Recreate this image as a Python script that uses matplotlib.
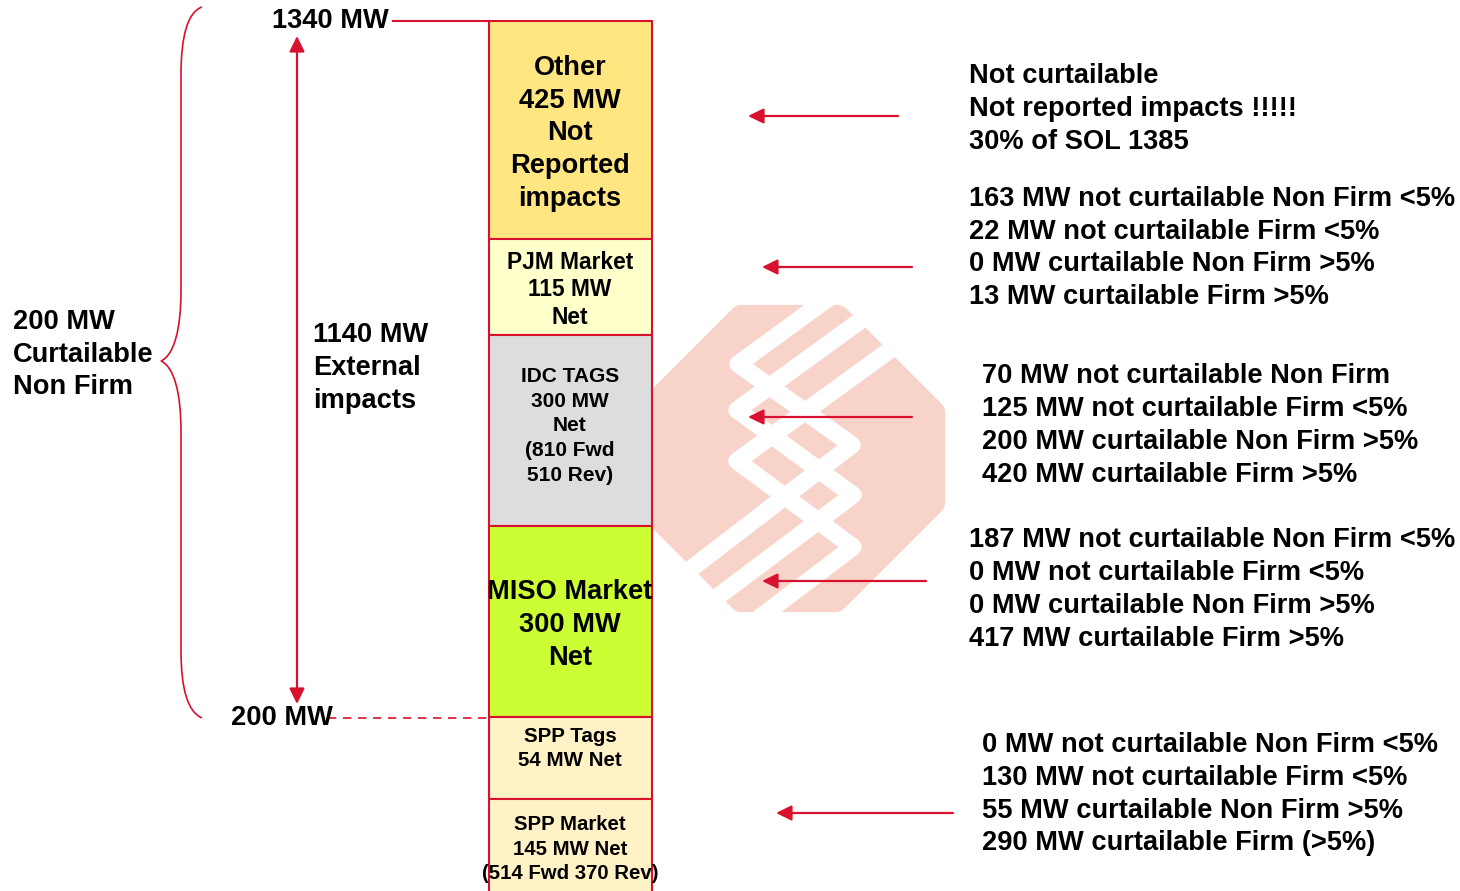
"""Redraw of the 1340 MW flowgate stack diagram, laid out in pixel coordinates."""
import matplotlib
matplotlib.use("Agg")
import matplotlib.pyplot as plt  # noqa: E402
from matplotlib.patches import PathPatch, Polygon, Rectangle  # noqa: E402
from matplotlib.path import Path  # noqa: E402

W, H = 1460, 891
RED = "#D7122F"
PEACH = "#F7D3C9"
BIG = 19.65

# stack segments, top to bottom
seg_edges = [21, 239, 335, 526, 717, 799, 900]
seg_colors = ["#FFE681", "#FFFFCC", "#DDDDDD", "#CCFF33", "#FFF2C6", "#FFF2C6"]
seg_labels = [
    ["Other", "425 MW", "Not", "Reported", "impacts"],
    ["PJM Market", "115 MW", "Net"],
    ["IDC TAGS", "300 MW", "Net", "(810 Fwd", "510 Rev)"],
    ["MISO Market", "300 MW", "Net"],
    ["SPP Tags", "54 MW Net"],
    ["SPP Market", "145 MW Net", "(514 Fwd 370 Rev)"],
]
seg_label_y = [
    [66, 99, 131, 164, 197],
    [261, 288, 316],
    [375, 400, 424, 449, 474],
    [590, 623, 656],
    [735, 759],
    [823, 848, 872],
]
seg_sizes = [BIG, 16.4, 15, BIG, 14.8, 14.7]

# notes on the right side
note_groups = [
    ["Not curtailable", "Not reported impacts !!!!!", "30% of SOL 1385"],
    ["163 MW not curtailable Non Firm <5%", "22 MW not curtailable Firm <5%",
     "0 MW curtailable Non Firm >5%", "13 MW curtailable Firm >5%"],
    ["70 MW not curtailable Non Firm", "125 MW not curtailable Firm <5%",
     "200 MW curtailable Non Firm >5%", "420 MW curtailable Firm >5%"],
    ["187 MW not curtailable Non Firm <5%", "0 MW not curtailable Firm <5%",
     "0 MW curtailable Non Firm >5%", "417 MW curtailable Firm >5%"],
    ["0 MW not curtailable Non Firm <5%", "130 MW not curtailable Firm <5%",
     "55 MW curtailable Non Firm >5%", "290 MW curtailable Firm (>5%)"],
]
note_x = [969, 969, 982, 969, 982]
note_y = [
    [74, 107, 140],
    [197, 230, 262, 295],
    [374, 407, 440, 473],
    [538, 571, 604, 637],
    [743, 776, 809, 841],
]
# (tail x, head x, y) of the arrows pointing back at the stack
arrows = [(898, 748, 116), (912, 762, 267), (912, 748, 417),
          (926, 762, 581), (953, 776, 813)]

# side labels
left_labels = [
    ("200 MW", 13, 320), ("Curtailable", 13, 353), ("Non Firm", 13, 385),
    ("1140 MW", 313, 333), ("External", 313, 366), ("impacts", 313, 399),
    ("1340 MW", 272, 19), ("200 MW", 231, 716),
]

# watermark logo: octagon (inset, the thick edge rounds the corners) and the
# white ribbons woven over it
logo_outline = [(741, 316), (838, 316), (934, 412), (934, 503), (836, 601),
                (741, 601), (640, 500), (640, 417)]
logo_ribbons = [
    [(830, 297), (738, 364), (852, 445), (670, 585)],
    [(875, 310), (737, 410), (853, 495), (700, 610)],
    [(905, 339), (737, 461), (853, 547), (750, 625)],
]


def baseline_text(ax, x, y, s, size, ha="left"):
    # y is the optical centre of the line; shift to baseline for even spacing
    ax.text(x, y + size * 0.46, s, fontsize=size, fontweight="bold", ha=ha,
            va="baseline", color="black", zorder=6)


def draw_logo(ax):
    ax.add_patch(Polygon(logo_outline, closed=True, fc=PEACH, ec=PEACH, lw=16,
                         joinstyle="round", zorder=1))
    for pts in logo_ribbons:
        ax.plot([p[0] for p in pts], [p[1] for p in pts], color="white", lw=12.5,
                solid_joinstyle="round", solid_capstyle="butt", zorder=2)


def draw_stack(ax):
    for i, color in enumerate(seg_colors):
        top, bottom = seg_edges[i], seg_edges[i + 1]
        ax.add_patch(Rectangle((488.5, top), 163.5, bottom - top, fc=color, ec=RED,
                               lw=1.5, zorder=3))
        for line, y in zip(seg_labels[i], seg_label_y[i]):
            baseline_text(ax, 570, y, line, seg_sizes[i], ha="center")


def draw_brace(ax):
    verts = [(202, 7), (188, 12), (181, 35), (181, 75),
             (181, 290),
             (181, 330), (174, 355), (161, 361),
             (174, 367), (181, 392), (181, 432),
             (181, 650),
             (181, 690), (188, 712), (202, 718)]
    codes = [Path.MOVETO, Path.CURVE4, Path.CURVE4, Path.CURVE4,
             Path.LINETO,
             Path.CURVE4, Path.CURVE4, Path.CURVE4,
             Path.CURVE4, Path.CURVE4, Path.CURVE4,
             Path.LINETO,
             Path.CURVE4, Path.CURVE4, Path.CURVE4]
    ax.add_patch(PathPatch(Path(verts, codes), fc="none", ec=RED, lw=1.2, zorder=4))


def draw_arrow(ax, start, end, style="-|>"):
    ax.annotate("", xy=end, xytext=start, zorder=5,
                arrowprops=dict(arrowstyle=f"{style},head_length=0.55,head_width=0.27",
                                color=RED, lw=1.6, mutation_scale=17,
                                shrinkA=0, shrinkB=0))


def main():
    plt.rcParams["font.family"] = ["Liberation Sans", "DejaVu Sans"]
    fig = plt.figure(figsize=(W / 100, H / 100), dpi=100)
    ax = fig.add_axes([0, 0, 1, 1])
    ax.set_xlim(0, W)
    ax.set_ylim(H, 0)
    ax.axis("off")

    draw_logo(ax)
    draw_stack(ax)
    draw_brace(ax)

    ax.plot([393, 489], [21, 21], color=RED, lw=1.5, zorder=4)
    ax.plot([328, 489], [717.5, 717.5], color=RED, lw=1.2, ls=(0, (5, 4)), zorder=4)
    draw_arrow(ax, (297, 36), (297, 704), style="<|-|>")
    for tail, head, y in arrows:
        draw_arrow(ax, (tail, y), (head, y))

    for s, x, y in left_labels:
        baseline_text(ax, x, y, s, BIG)
    for lines, x, ys in zip(note_groups, note_x, note_y):
        for s, y in zip(lines, ys):
            baseline_text(ax, x, y, s, BIG)

    fig.savefig("out.png", dpi=100)
    plt.close(fig)


if __name__ == "__main__":
    main()
